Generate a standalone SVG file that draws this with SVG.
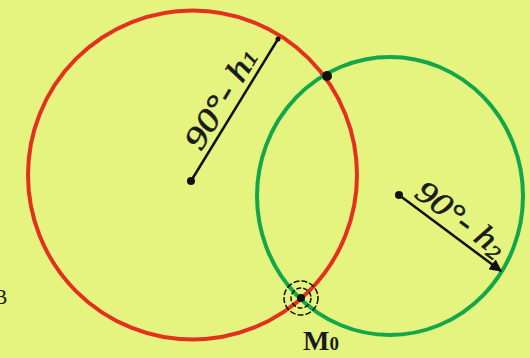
<svg xmlns="http://www.w3.org/2000/svg" width="530" height="358" viewBox="0 0 530 358">
<defs>
<style>
.red{fill:none;stroke:#e2321f;stroke-width:4}
.green{fill:none;stroke:#13a64a;stroke-width:4}
.ln{stroke:#111;stroke-width:2.5;fill:none}
.lbl{font-family:"Liberation Serif",serif;font-style:italic;font-size:32px;fill:#1a1a1a;stroke:#1a1a1a;stroke-width:0.6}
.dot{fill:#111}
</style>
<marker id="arr" viewBox="0 0 10 10" refX="9" refY="5" markerWidth="5" markerHeight="5" orient="auto" markerUnits="strokeWidth">
<path d="M0,0 L10,5 L0,10 z" fill="#111"/>
</marker>
</defs>
<rect width="530" height="358" fill="#e5f47e"/>
<g id="circle-red"><circle class="red" cx="192.5" cy="175" r="164.5"/></g>
<g id="circle-green"><ellipse class="green" cx="390" cy="196" rx="133" ry="139"/></g>
<g id="connectors">
<line class="ln" x1="191" y1="181" x2="278" y2="39"/>
<line class="ln" x1="399" y1="195" x2="501" y2="271" marker-end="url(#arr)"/>
</g>
<g id="dots">
<circle class="dot" cx="191" cy="181" r="4"/>
<circle class="dot" cx="278" cy="39" r="2.5"/>
<circle class="dot" cx="327" cy="76" r="5"/>
<circle class="dot" cx="399" cy="195" r="4"/>
</g>
<g id="label-h1">
<text class="lbl" transform="translate(201,152) rotate(-58.8)" textLength="112" lengthAdjust="spacingAndGlyphs">90°- h<tspan font-size="20">1</tspan></text>
</g>
<g id="label-h2">
<text class="lbl" transform="translate(413,196) rotate(36.6)" textLength="104" lengthAdjust="spacingAndGlyphs">90°- h<tspan font-size="20" dy="4">2</tspan></text>
</g>
<g id="M0">
<circle cx="301" cy="298" r="17" fill="none" stroke="#111" stroke-width="1.5" stroke-dasharray="6 2"/>
<circle cx="301" cy="298" r="10" fill="none" stroke="#111" stroke-width="1.5" stroke-dasharray="5 2"/>
<circle class="dot" cx="301" cy="298" r="4"/>
<text x="303" y="350" font-family="Liberation Serif,serif" font-weight="bold" font-size="28" fill="#1a1a1a">M<tspan font-size="19">0</tspan></text>
</g>
<g id="edge-letter">
<text x="-6" y="304" font-family="Liberation Serif,serif" font-size="20" fill="#1a1a1a">B</text>
</g>
</svg>
